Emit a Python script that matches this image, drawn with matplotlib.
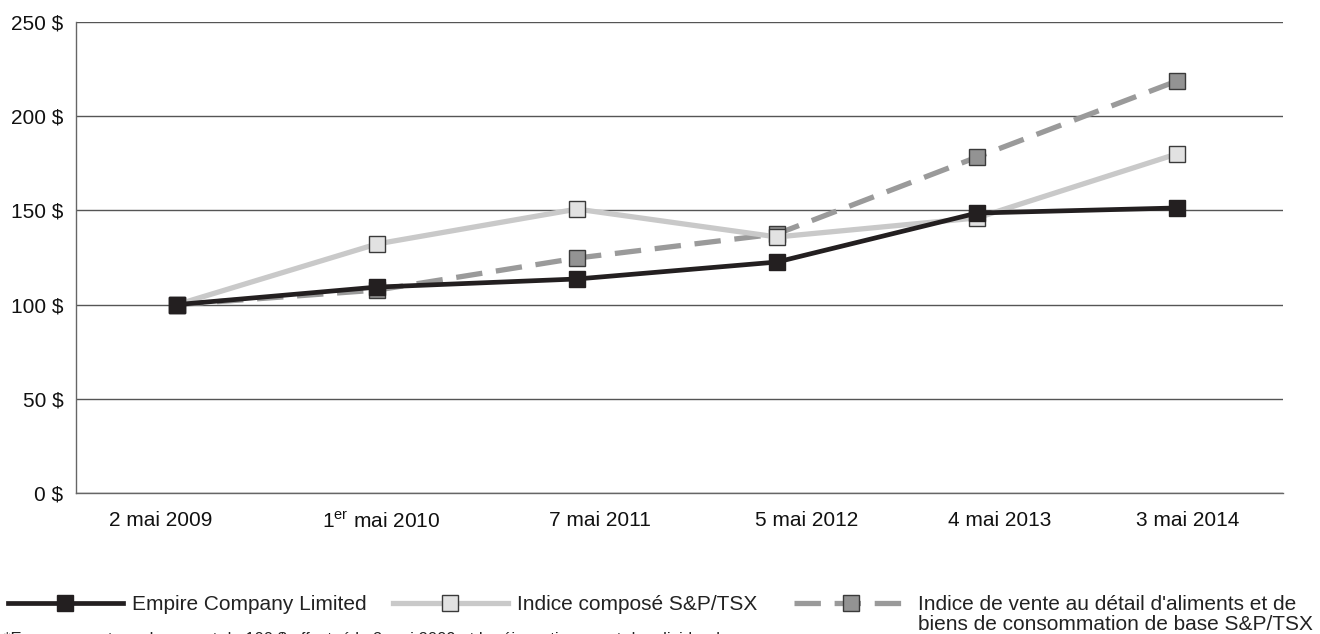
import matplotlib
matplotlib.use("Agg")
import matplotlib.pyplot as plt

plt.rcParams['font.family'] = ['Liberation Sans', 'DejaVu Sans']
plt.rcParams['mathtext.fontset'] = 'custom'
plt.rcParams['mathtext.rm'] = 'Liberation Sans'

dates = ["2 mai 2009", r"1$^{\mathrm{er}}$ mai 2010", "7 mai 2011", "5 mai 2012", "4 mai 2013", "3 mai 2014"]
empire = [100, 109.3, 113.6, 122.6, 148.6, 151.3]
composite = [100, 132.2, 150.7, 135.9, 146.0, 180.0]
food_retail = [100, 107.7, 124.7, 137.5, 178.3, 218.7]
yticks = [0, 50, 100, 150, 200, 250]
ytick_labels = ["0 $", "50 $", "100 $", "150 $", "200 $", "250 $"]
labels = ["Empire Company Limited", "Indice composé S&P/TSX",
          "Indice de vente au détail d'aliments et de"]
label3_line2 = "biens de consommation de base S&P/TSX"
footnote = "*En supposant un placement de 100 $ effectué le 2 mai 2009 et le réinvestissement des dividendes"

# layout: date labels in the original are not exactly centred under the points
label_shift = [-0.08, 0.02, 0.115, 0.15, 0.115, 0.055]

fig = plt.figure(figsize=(13.2, 6.34), dpi=100)
ax = fig.add_axes([76/1320, 1-493/634, (1283-76)/1320, (493-22)/634])

x = list(range(len(dates)))
l3, = ax.plot(x, food_retail, color='#9a9a9a', lw=3.8, ls=(0, (5, 2.6)),
              marker='s', ms=11, mfc='#939393', mec='#3a3a3a', mew=1.0, zorder=3)
l2, = ax.plot(x, composite, color='#c9c9c9', lw=3.8,
              marker='s', ms=11, mfc='#e2e2e2', mec='#3a3a3a', mew=1.0, zorder=4)
l1, = ax.plot(x, empire, color='#231f20', lw=3.4,
              marker='s', ms=11.5, mfc='#231f20', mec='#231f20', mew=1.0, zorder=5)

ax.set_xlim(-0.505, 5.53)
ax.set_ylim(0, 250)
ax.set_yticks(yticks)
ax.set_yticklabels(ytick_labels)
ax.set_xticks([xi + s for xi, s in zip(x, label_shift)])
ax.set_xticklabels(dates)
ax.grid(axis='y', color='#555555', lw=1.0)
ax.set_axisbelow(True)
for s in ['top', 'right']:
    ax.spines[s].set_visible(False)
for s in ['left', 'bottom']:
    ax.spines[s].set_color('#666666')
    ax.spines[s].set_linewidth(1.0)
ax.tick_params(axis='both', length=0, labelsize=15, colors='#111111')
ax.tick_params(axis='y', pad=9)
ax.tick_params(axis='x', pad=13)

handles = [l1, l2, l3]
xs = [8, 393, 794]
for h, lab, xp in zip(handles, labels, xs):
    fig.legend([h], [lab], loc='center left',
               bbox_to_anchor=(xp/1320, 1-605/634), frameon=False,
               handlelength=5.5, handletextpad=0.45, borderpad=0,
               borderaxespad=0, fontsize=15, labelcolor='#222222')
fig.text(918/1320, 1-625/634, label3_line2, fontsize=15, va='center', ha='left', color='#222222')
fig.text(4/1320, 1-632/634, footnote, fontsize=12, va='top', ha='left', color='#222222')

fig.savefig("out.png", dpi=100)
